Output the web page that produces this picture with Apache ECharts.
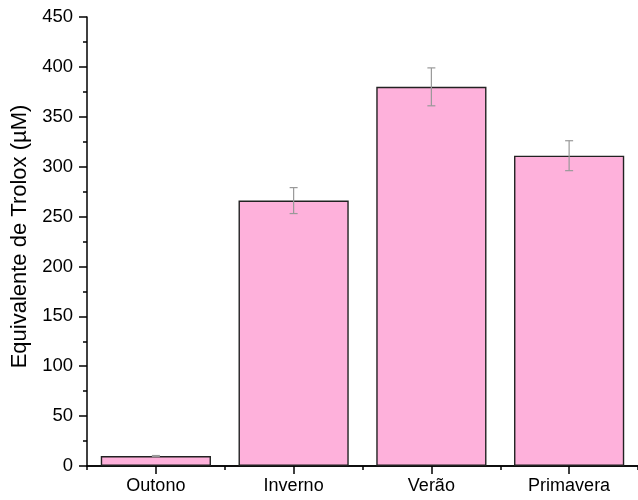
<!DOCTYPE html>
<html>
<head>
<meta charset="utf-8">
<script src="https://cdn.jsdelivr.net/npm/echarts@6/dist/echarts.min.js"></script>
<style>
html, body { margin: 0; padding: 0; background: #fff; }
#chart { width: 638px; height: 500px; }
</style>
</head>
<body>
<div id="chart"></div>
<script>
var categories = ['Outono', 'Inverno', 'Verão', 'Primavera'];
var means = [10, 266, 380, 311];
var errors = [0.5, 13, 19, 15];

var font = 'Liberation Sans, Arial, sans-serif';

var errorData = means.map(function (m, i) {
    return [i, m - errors[i], m + errors[i]];
});

var option = {
    animation: false,
    grid: { left: 87, top: 17, width: 558, height: 449 },
    xAxis: [{
        type: 'category',
        data: categories,
        axisLine: { lineStyle: { color: '#000', width: 1.5 } },
        axisTick: { show: true, interval: 0, alignWithLabel: true, length: 8, lineStyle: { color: '#000', width: 1.5 } },
        axisLabel: { color: '#000', fontSize: 18, fontFamily: font, margin: 11 }
    }, {
        // boundary ticks between categories
        type: 'category',
        data: categories,
        position: 'bottom',
        axisLine: { show: true, lineStyle: { color: '#000', width: 1.5 } },
        axisTick: { show: true, interval: 0, length: 4, lineStyle: { color: '#000', width: 1.5 } },
        axisLabel: { show: false }
    }],
    yAxis: {
        type: 'value',
        min: 0,
        max: 450,
        interval: 50,
        name: 'Equivalente de Trolox (µM)',
        nameLocation: 'middle',
        nameGap: 55,
        nameTextStyle: { color: '#000', fontSize: 22, fontFamily: font, padding: [0, 0, 0, 10] },
        axisLine: { show: true, lineStyle: { color: '#000', width: 1.5 } },
        axisTick: { show: true, length: 8, lineStyle: { color: '#000', width: 1.5 } },
        minorTick: { show: true, splitNumber: 2, length: 4, lineStyle: { color: '#000', width: 1.5 } },
        axisLabel: { color: '#000', fontSize: 18.5, fontFamily: font, margin: 14 },
        splitLine: { show: false }
    },
    series: [{
        type: 'bar',
        data: means,
        barWidth: '80%',
        itemStyle: { color: '#FEB1DB', borderColor: '#222', borderWidth: 1.4 }
    }, {
        type: 'custom',
        xAxisIndex: 1,
        data: errorData,
        z: 10,
        renderItem: function (params, api) {
            var x = api.value(0);
            var lo = api.coord([x, api.value(1)]);
            var hi = api.coord([x, api.value(2)]);
            var cap = 4;
            var style = { stroke: '#999', lineWidth: 1.2 };
            return {
                type: 'group',
                children: [
                    { type: 'line', shape: { x1: hi[0], y1: hi[1], x2: lo[0], y2: lo[1] }, style: style },
                    { type: 'line', shape: { x1: hi[0] - cap, y1: hi[1], x2: hi[0] + cap, y2: hi[1] }, style: style },
                    { type: 'line', shape: { x1: lo[0] - cap, y1: lo[1], x2: lo[0] + cap, y2: lo[1] }, style: style }
                ]
            };
        }
    }]
};

echarts.init(document.getElementById('chart')).setOption(option);
</script>
</body>
</html>
